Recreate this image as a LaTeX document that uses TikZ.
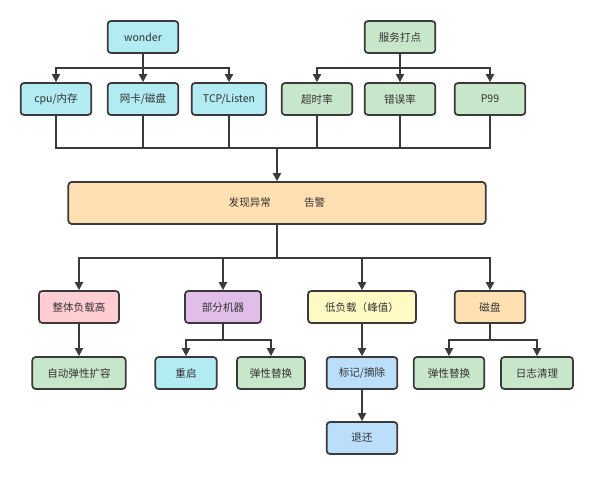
\documentclass[tikz,border=0pt]{standalone}
\usepackage{fontspec}
\setmainfont{Noto Sans CJK SC}
\usepackage{tikz}
\usetikzlibrary{shapes,arrows,arrows.meta,positioning,fit}

\definecolor{lineGray}{HTML}{3A3A3A}
\definecolor{textGray}{HTML}{333333}
\definecolor{cyanFill}{HTML}{B2EBF2}
\definecolor{greenFill}{HTML}{C8E6C9}
\definecolor{orangeFill}{HTML}{FFE0B2}
\definecolor{pinkFill}{HTML}{FFCDD2}
\definecolor{purpleFill}{HTML}{E1BEE7}
\definecolor{yellowFill}{HTML}{FFF9C4}
\definecolor{blueFill}{HTML}{BBDEFB}

\begin{document}
\begin{tikzpicture}[x=0.75pt, y=-0.75pt]
		\tikzstyle{Box}		= [rectangle, rounded corners=2.5pt, draw=lineGray, line width=1.3pt, minimum width=53pt, minimum height=24pt, inner sep=0pt, text=textGray, font=\fontsize{7.9}{10}\selectfont]
		\tikzstyle{Cyan}	= [fill=cyanFill]
		\tikzstyle{Green}	= [fill=greenFill]
		\tikzstyle{Orange}	= [fill=orangeFill]
		\tikzstyle{Pink}	= [fill=pinkFill]
		\tikzstyle{Purple}	= [fill=purpleFill]
		\tikzstyle{Yellow}	= [fill=yellowFill]
		\tikzstyle{Blue}	= [fill=blueFill]
		\tikzstyle{Link}	= [draw=lineGray, line width=1.5pt]
		\tikzstyle{Arrow}	= [Link, -{Triangle[length=6pt, width=6pt]}]

		\useasboundingbox (0,0) rectangle (594,476);

		% sources
		\node (wonder) at (143, 37) [Box][Cyan] {wonder};
		\node (cpu) at (56, 99) [Box][Cyan] {cpu/内存};
		\node (nic) at (143, 99) [Box][Cyan] {网卡/磁盘};
		\node (tcp) at (229, 99) [Box][Cyan, minimum width=56pt] {TCP/Listen};
		\node (svc) at (400, 37) [Box][Green] {服务打点};
		\node (timeout) at (317, 99) [Box][Green] {超时率};
		\node (errs) at (400, 99) [Box][Green] {错误率};
		\node (p99) at (490, 99) [Box][Green] {P99};

		% alarm
		\node (alarm) at (277, 203) [Box][Orange, minimum width=313pt, minimum height=31.5pt] {发现异常\hspace{25pt}告警};

		% cases
		\node (high) at (79, 307) [Box][Pink, minimum width=60pt] {整体负载高};
		\node (part) at (223, 307) [Box][Purple, minimum width=57pt] {部分机器};
		\node (low) at (362, 307) [Box][Yellow, minimum width=81pt] {低负载（峰值）};
		\node (disk) at (490, 307) [Box][Orange] {磁盘};

		% actions
		\node (scale) at (79, 373) [Box][Green, minimum width=70pt] {自动弹性扩容};
		\node (restart) at (186, 373) [Box][Cyan, minimum width=46pt] {重启};
		\node (swapA) at (271, 373) [Box][Green, minimum width=51pt] {弹性替换};
		\node (mark) at (362, 373) [Box][Blue] {标记/摘除};
		\node (swapB) at (449, 373) [Box][Green] {弹性替换};
		\node (clean) at (537, 373) [Box][Green, minimum width=54pt] {日志清理};
		\node (giveback) at (362, 438) [Box][Blue] {退还};

		\coordinate (wsplit) at (143, 68);
		\coordinate (ssplit) at (400, 68);
		\coordinate (merge) at (277, 148);
		\coordinate (asplit) at (277, 258);
		\coordinate (psplit) at (223, 340);
		\coordinate (dsplit) at (490, 340);

		\draw (wonder) to (wsplit) [Link];
		\draw (wsplit) -| (cpu) [Arrow];
		\draw (wsplit) to (nic) [Arrow];
		\draw (wsplit) -| (tcp) [Arrow];
		\draw (svc) to (ssplit) [Link];
		\draw (ssplit) -| (timeout) [Arrow];
		\draw (ssplit) to (errs) [Arrow];
		\draw (ssplit) -| (p99) [Arrow];

		\draw (cpu) |- (merge) [Link];
		\draw (nic) |- (merge) [Link];
		\draw (tcp) |- (merge) [Link];
		\draw (timeout) |- (merge) [Link];
		\draw (errs) |- (merge) [Link];
		\draw (p99) |- (merge) [Link];
		\draw (merge) to (alarm) [Arrow];

		\draw (alarm) to (asplit) [Link];
		\draw (asplit) -| (high) [Arrow];
		\draw (asplit) -| (part) [Arrow];
		\draw (asplit) -| (low) [Arrow];
		\draw (asplit) -| (disk) [Arrow];

		\draw (high) to (scale) [Arrow];
		\draw (part) to (psplit) [Link];
		\draw (psplit) -| (restart) [Arrow];
		\draw (psplit) -| (swapA) [Arrow];
		\draw (low) to (mark) [Arrow];
		\draw (mark) to (giveback) [Arrow];
		\draw (disk) to (dsplit) [Link];
		\draw (dsplit) -| (swapB) [Arrow];
		\draw (dsplit) -| (clean) [Arrow];
	\end{tikzpicture}
\end{document}
